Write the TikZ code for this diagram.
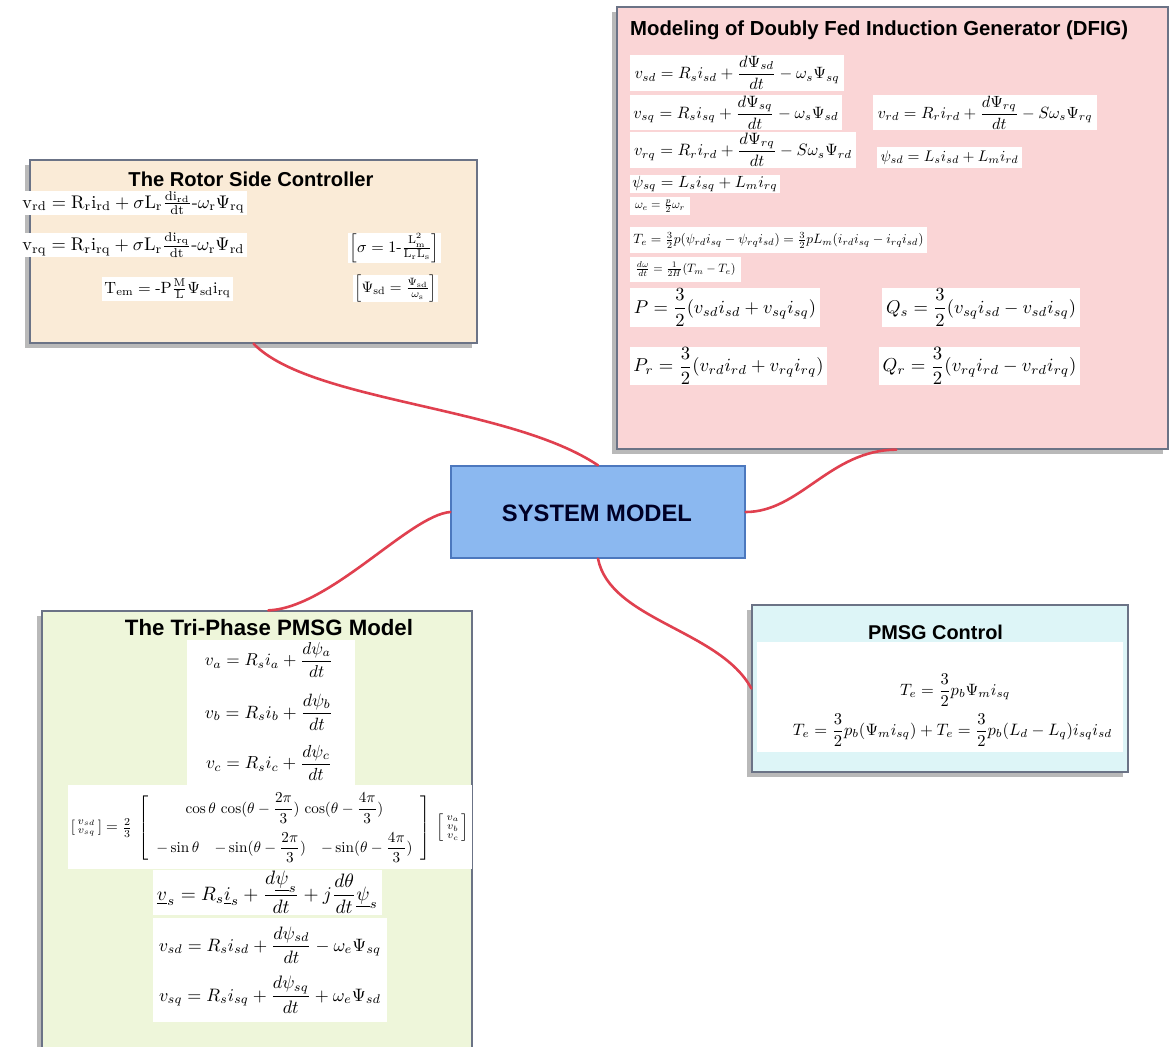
\documentclass[tikz,border=0pt]{standalone}
\usepackage{amsmath}
\usepackage{fontspec}
\newfontfamily\titlefont{Liberation Sans}
\usetikzlibrary{shadows}
\definecolor{beige}{HTML}{FAEBD7}
\definecolor{pinkbg}{HTML}{FAD5D6}
\definecolor{smblue}{HTML}{8BB8F0}
\definecolor{smborder}{HTML}{4C78BE}
\definecolor{cyanbg}{HTML}{DDF5F7}
\definecolor{greenbg}{HTML}{EEF6DA}
\definecolor{boxborder}{HTML}{6B7386}
\definecolor{linkred}{HTML}{E0404F}
\newcommand{\fw}[2]{\resizebox{#1pt}{!}{#2}}
\tikzset{
  panel/.style={draw=boxborder, line width=1.3pt, inner sep=0pt, rectangle,
    drop shadow={shadow xshift=-5pt, shadow yshift=-5pt, fill=gray!55, opacity=1}},
  eqb/.style={fill=white, inner sep=0pt, rectangle},
  eqt/.style={inner sep=0pt},
  ttl/.style={inner sep=0pt, font=\titlefont\bfseries},
  link/.style={draw=linkred, line width=2.6pt, line cap=round},
}
\begin{document}
\begin{tikzpicture}[x=1pt,y=-1pt]
\clip (0,0) rectangle (1171,1047);
\fill[white] (0,0) rectangle (1171,1047);

% panels
\node[panel, fill=beige, minimum width=447pt, minimum height=183pt] (rsc) at (253.5,251.5) {};
\node[panel, fill=pinkbg, minimum width=551pt, minimum height=442pt] (dfig) at (892.5,228) {};
\node[panel, fill=cyanbg, minimum width=376pt, minimum height=167pt] (pmc) at (940,688.5) {};
\node[panel, fill=greenbg, minimum width=430pt, minimum height=460pt] (tri) at (257,841) {};
\node[draw=smborder, line width=1.3pt, fill=smblue, inner sep=0pt, minimum width=294pt, minimum height=92pt] (sm) at (598,512) {};
\node[ttl, font=\titlefont\bfseries, text=black!85!blue] (smt) at (597,513) {\fw{190}{SYSTEM MODEL}};

% connectors
\draw[link] (rsc.south) .. controls (310,402) and (510,406) .. (sm.north);
\coordinate (dfigin) at ([xshift=280pt]dfig.south west);
\draw[link] (sm.east) .. controls (800,512) and (830,450) .. (dfigin);
\coordinate (triin) at ([xshift=227pt]tri.north west);
\draw[link] (sm.west) .. controls (410,515) and (330,608) .. (triin);
\draw[link] (sm.south) .. controls (610,620) and (720,630) .. (pmc.west);

% Rotor side controller
\node[ttl] (rsct) at (251,179) {\fw{245}{The Rotor Side Controller}};
\node[eqb, minimum width=227pt, minimum height=24pt] (r1) at (133.5,203) {\fw{222}{$\mathrm{v_{rd} = R_r i_{rd} + \sigma L_r \frac{di_{rd}}{dt}}\mbox{-}\omega_{\mathrm{r}}\Psi_{\mathrm{rq}}$}};
\node[eqb, minimum width=227pt, minimum height=24pt] (r2) at (133.5,245) {\fw{222}{$\mathrm{v_{rq} = R_r i_{rq} + \sigma L_r \frac{di_{rq}}{dt}}\mbox{-}\omega_{\mathrm{r}}\Psi_{\mathrm{rd}}$}};
\node[eqb, minimum width=131pt, minimum height=24pt] (r3) at (167.5,289) {\fw{126}{$\mathrm{T_{em} = \mbox{-}P\frac{M}{L}}\Psi_{\mathrm{sd}}\mathrm{i_{rq}}$}};
\node[eqb, minimum width=93pt, minimum height=30pt] (r4) at (394.5,248) {\fw{90}{$\left[\sigma = 1\mbox{-}\frac{\mathrm{L_m^2}}{\mathrm{L_r L_s}}\right]$}};
\node[eqb, minimum width=85pt, minimum height=21pt] (r5) at (395.5,288.5) {\fw{82}{$\left[\Psi_{\mathrm{sd}} = \frac{\Psi_{\mathrm{sd}}}{\omega_{\mathrm{s}}}\right]$}};

% DFIG
\node[ttl, anchor=west] (dfigt) at (630,30) {\fw{498}{Modeling of Doubly Fed Induction Generator (DFIG)}};
\node[eqb, minimum width=214pt, minimum height=36pt] (d1) at (737,73) {\fw{205}{$v_{sd} = R_s i_{sd} + \dfrac{d\Psi_{sd}}{dt} - \omega_s\Psi_{sq}$}};
\node[eqb, minimum width=212pt, minimum height=35pt] (d2) at (736,112.5) {\fw{205}{$v_{sq} = R_s i_{sq} + \dfrac{d\Psi_{sq}}{dt} - \omega_s\Psi_{sd}$}};
\node[eqb, minimum width=224pt, minimum height=35pt] (d3) at (985,112.5) {\fw{215}{$v_{rd} = R_r i_{rd} + \dfrac{d\Psi_{rq}}{dt} - S\omega_s\Psi_{rq}$}};
\node[eqb, minimum width=226pt, minimum height=36pt] (d4) at (743,150) {\fw{218}{$v_{rq} = R_r i_{rd} + \dfrac{d\Psi_{rq}}{dt} - S\omega_s\Psi_{rd}$}};
\node[eqb, minimum width=145pt, minimum height=21pt] (d5) at (949.5,157.5) {\fw{138}{$\psi_{sd} = L_s i_{sd} + L_m i_{rd}$}};
\node[eqb, minimum width=150pt, minimum height=18pt] (d6) at (705,184) {\fw{145}{$\psi_{sq} = L_s i_{sq} + L_m i_{rq}$}};
\node[eqb, minimum width=60pt, minimum height=18pt] (d7) at (660,206) {\fw{50}{$\omega_e = \frac{p}{2}\omega_r$}};
\node[eqb, minimum width=297pt, minimum height=26pt] (d8) at (778.5,240) {\fw{290}{$T_e = \frac{3}{2}p(\psi_{rd} i_{sq} - \psi_{rq} i_{sd}) = \frac{3}{2}pL_m(i_{rd} i_{sq} - i_{rq} i_{sd})$}};
\node[eqb, minimum width=111pt, minimum height=25pt] (d9) at (685.5,269.5) {\fw{100}{$\frac{d\omega}{dt} = \frac{1}{2H}(T_m - T_e)$}};
\node[eqb, minimum width=190pt, minimum height=39pt] (d10) at (725,307.5) {\fw{182}{$P = \dfrac{3}{2}(v_{sd} i_{sd} + v_{sq} i_{sq})$}};
\node[eqb, minimum width=198pt, minimum height=39pt] (d11) at (981,307.5) {\fw{190}{$Q_s = \dfrac{3}{2}(v_{sq} i_{sd} - v_{sd} i_{sq})$}};
\node[eqb, minimum width=197pt, minimum height=38pt] (d12) at (728.5,366) {\fw{190}{$P_r = \dfrac{3}{2}(v_{rd} i_{rd} + v_{rq} i_{rq})$}};
\node[eqb, minimum width=201pt, minimum height=38pt] (d13) at (979.5,366) {\fw{194}{$Q_r = \dfrac{3}{2}(v_{rq} i_{rd} - v_{rd} i_{rq})$}};

% PMSG control
\node[ttl] (pmct) at (935.5,632) {\fw{135}{PMSG Control}};
\node[eqb, minimum width=366pt, minimum height=110pt] (pmcw) at (940,697) {};
\node[eqt] (e1) at (955,690) {\fw{110}{$T_e = \dfrac{3}{2}p_b\Psi_m i_{sq}$}};
\node[eqt] (e2) at (952.5,730) {\fw{319}{$T_e = \dfrac{3}{2}p_b(\Psi_m i_{sq}) + T_e = \dfrac{3}{2}p_b(L_d - L_q)i_{sq}i_{sd}$}};

% Tri-phase PMSG model
\node[ttl] (trit) at (269,628) {\fw{288}{The Tri-Phase PMSG Model}};
\node[eqb, minimum width=168pt, minimum height=145pt] (triw1) at (271,712.5) {};
\node[eqt] (va) at (269,660) {\fw{128}{$v_a = R_s i_a + \dfrac{d\psi_a}{dt}$}};
\node[eqt] (vb) at (269,712) {\fw{128}{$v_b = R_s i_b + \dfrac{d\psi_b}{dt}$}};
\node[eqt] (vc) at (269,763) {\fw{126}{$v_c = R_s i_c + \dfrac{d\psi_c}{dt}$}};
\node[eqb, minimum width=404pt, minimum height=84pt] (triw2) at (270,827) {};
\node[eqt] (mx) at (270,828) {\fw{398}{$\left[\begin{smallmatrix} v_{sd}\\ v_{sq}\end{smallmatrix}\right] = \frac{2}{3}\;\left[\begin{array}{ccc} \multicolumn{3}{c}{\cos\theta\,\cos(\theta-\dfrac{2\pi}{3})\,\cos(\theta-\dfrac{4\pi}{3})} \\[9pt] -\sin\theta & -\sin(\theta-\dfrac{2\pi}{3}) & -\sin(\theta-\dfrac{4\pi}{3})\end{array}\right]\;\left[\begin{smallmatrix} v_a\\ v_b\\ v_c\end{smallmatrix}\right]$}};
\node[eqb, minimum width=229pt, minimum height=45pt] (triw3) at (267.5,892.5) {};
\node[eqt] (vs) at (267.5,892) {\fw{221}{$\underline{v}_s = R_s\underline{i}_s + \dfrac{d\underline{\psi}_s}{dt} + j\dfrac{d\theta}{dt}\underline{\psi}_s$}};
\node[eqb, minimum width=234pt, minimum height=104pt] (triw4) at (270,970) {};
\node[eqt] (vsd) at (270,945) {\fw{222}{$v_{sd} = R_s i_{sd} + \dfrac{d\psi_{sd}}{dt} - \omega_e\Psi_{sq}$}};
\node[eqt] (vsq) at (270,995) {\fw{222}{$v_{sq} = R_s i_{sq} + \dfrac{d\psi_{sq}}{dt} + \omega_e\Psi_{sd}$}};
\end{tikzpicture}
\end{document}
